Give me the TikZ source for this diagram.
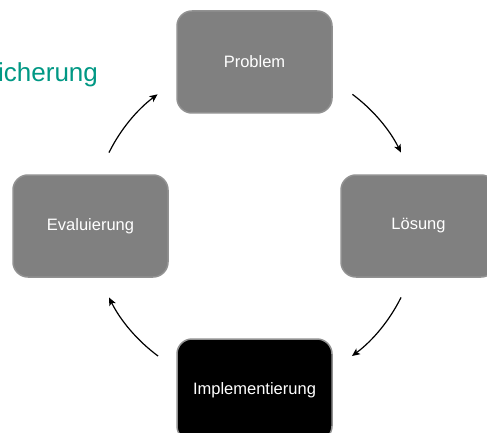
\documentclass[tikz,border=0pt]{standalone}
\usepackage{fontspec}
\setmainfont{Liberation Sans}
\usetikzlibrary{arrows.meta}
\definecolor{boxgray}{RGB}{128,128,128}
\definecolor{boxedge}{RGB}{145,145,145}
\definecolor{teal1}{RGB}{0,152,132}
\tikzset{
  stepbox/.style={draw=boxedge, line width=1.5pt, fill=boxgray, rounded corners=15pt,
    minimum width=155pt, minimum height=102pt, inner sep=0pt,
    font=\fontsize{16.5}{18}\selectfont, text=white},
  darkbox/.style={stepbox, fill=black},
  cyc/.style={line width=1.2pt, -{Stealth[length=8pt,width=7pt,inset=2pt]}}
}
\begin{document}
\begin{tikzpicture}[x=1pt,y=1pt]
\useasboundingbox (0,0) rectangle (487,432);
\clip (0,0) rectangle (487,432);
\fill[white] (0,0) rectangle (487,432);
\coordinate (c) at (255,207);
\node[stepbox] (problem) at (254.5,370) {Problem};
\node[stepbox] (eval) at (90.5,206) {Evaluierung};
\node[stepbox] (loesung) at (418.5,206) {Lösung};
\node[darkbox] (impl) at (254.5,42) {Implementierung};
\node[anchor=base west, inner sep=0pt, text=teal1, font=\fontsize{26}{30}\selectfont] (title) at (-2,350) {icherung};
\draw[cyc] ([shift={(153.6:163pt)}]c) arc[start angle=153.6, end angle=126.7, radius=163pt];
\draw[cyc] ([shift={(53.3:163pt)}]c) arc[start angle=53.3, end angle=26.4, radius=163pt];
\draw[cyc] ([shift={(-26.4:163pt)}]c) arc[start angle=-26.4, end angle=-53.5, radius=163pt];
\draw[cyc] ([shift={(-126.5:163pt)}]c) arc[start angle=-126.5, end angle=-153.6, radius=163pt];
\end{tikzpicture}
\end{document}
